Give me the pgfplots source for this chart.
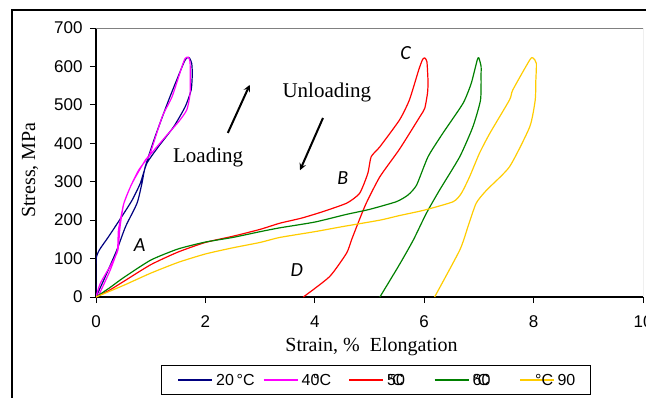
\documentclass[border=0pt]{standalone}
\usepackage{fontspec}
\setmainfont{Liberation Serif}
\newfontfamily\arialf{Liberation Sans}
\newfontfamily\calibrif{Carlito}
\usepackage{pgfplots}
\pgfplotsset{compat=1.18}

\definecolor{c20}{RGB}{0,0,128}
\definecolor{c40}{RGB}{255,0,255}
\definecolor{c50}{RGB}{255,0,0}
\definecolor{c60}{RGB}{0,128,0}
\definecolor{c90}{RGB}{255,204,0}

\begin{document}
\begin{tikzpicture}[x=1pt,y=1pt]
\useasboundingbox (0,0) rectangle (646,397);
% outer frame
\draw[line width=1.5pt] (12,-5) -- (12,387) -- (660,387);
\begin{axis}[
  at={(96pt,100pt)}, anchor=south west,
  scale only axis, width=547pt, height=269pt,
  xmin=0, xmax=10, ymin=0, ymax=700,
  xtick={0,2,...,10}, ytick={0,100,...,700},
  axis lines=left,
  axis line style={-, line width=1.2pt},
  tick align=outside, major tick length=6pt,
  tick style={black, line width=1pt},
  /pgf/number format/assume math mode=true,
  ticklabel style={font=\arialf\fontsize{17}{17}\selectfont},
  xticklabel style={anchor=center, yshift=-19pt},
  yticklabel style={anchor=east, xshift=-4pt},
  every axis plot/.append style={line width=1.2pt, smooth, tension=0.35},
]
% 20 C
\addplot[draw=c20] coordinates {
(0,0)(0,96)(0.06,122)(0.23,157)(0.47,209)(0.66,252)(0.81,296)(0.93,348)
(1.14,391)(1.42,443)(1.63,495)(1.74,539)(1.76,580)(1.75,608)(1.71,622)
(1.66,622)(1.6,608)(1.33,513)(1.08,417)(0.9,339)(0.84,296)(0.75,244)
(0.54,183)(0.38,122)(0.17,53)(0,0)};
% 40 C
\addplot[draw=c40] coordinates {
(0,0)(0.08,36)(0.29,88)(0.4,122)(0.44,183)(0.51,244)(0.66,296)(0.9,356)
(0.99,374)(1.21,469)(1.39,521)(1.57,599)(1.63,621)(1.69,624)(1.72,608)
(1.72,530)(1.66,487)(1.51,456)(1.27,417)(0.99,370)(0.78,330)(0.63,287)
(0.51,244)(0.47,218)(0.41,174)(0.39,122)(0.26,70)(0.06,8)(0,0)};
% 50 C
\addplot[draw=c50] coordinates {
(0,0)(0.25,18)(0.5,40)(1,84)(1.5,117)(2,142)(2.5,158)(3,176)(3.36,192)
(3.75,205)(4.1,220)(4.58,244)(4.82,270)(4.97,322)(5.03,365)(5.19,391)
(5.55,461)(5.73,513)(5.9,591)(5.97,618)(6.01,622)(6.05,612)(6.07,560)
(6.06,530)(6.01,491)(5.92,469)(5.55,385)(5.19,313)(4.94,244)(4.79,192)
(4.67,148)(4.58,114)(4.27,53)(3.79,0)};
% 60 C
\addplot[draw=c60] coordinates {
(0,0)(0.25,24)(0.5,50)(1,96)(1.5,125)(2,143)(2.5,155)(3,170)(3.36,180)
(4,195)(4.58,215)(5.0,228)(5.49,248)(5.7,265)(5.86,291)(6.07,365)
(6.34,426)(6.71,504)(6.86,556)(6.97,617)(7.0,622)(7.04,600)(7.04,582)
(7.03,513)(6.89,443)(6.65,365)(6.28,278)(6.04,218)(5.8,148)(5.55,85)(5.19,0)};
% 90 C
\addplot[draw=c90] coordinates {
(0,0)(0.5,30)(1,62)(1.5,90)(2,112)(2.5,128)(3,142)(3.36,155)(4,170)
(4.5,183)(5.19,200)(5.55,212)(6,226)(6.53,248)(6.68,270)(6.83,313)
(7.01,374)(7.2,426)(7.56,513)(7.62,539)(7.93,617)(7.99,622)(8.05,608)
(8.04,560)(8.03,513)(7.93,443)(7.56,339)(7.14,278)(6.95,244)(6.8,183)
(6.65,122)(6.19,0)};
% grey frame on top and right
\draw[gray, line width=1pt] (rel axis cs:0,1) -- (rel axis cs:1,1) -- (rel axis cs:1,0);
% annotations
\node[font=\fontsize{21}{21}\selectfont] at (axis cs:2.05,362) {Loading};
\node[font=\fontsize{21}{21}\selectfont] at (axis cs:4.22,531) {Unloading};
\draw[-stealth, line width=2pt] (axis cs:2.41,427) -- (axis cs:2.81,552);
\draw[-stealth, line width=2pt] (axis cs:4.15,466) -- (axis cs:3.73,330);
\node[font=\calibrif\itshape\fontsize{20}{20}\selectfont] at (axis cs:0.8,135) {A};
\node[font=\calibrif\itshape\fontsize{20}{20}\selectfont] at (axis cs:4.51,310) {B};
\node[font=\calibrif\itshape\fontsize{20}{20}\selectfont] at (axis cs:5.66,635) {C};
\node[font=\calibrif\itshape\fontsize{20}{20}\selectfont] at (axis cs:3.67,70) {D};
\end{axis}
\node[rotate=90, font=\fontsize{20}{20}\selectfont] at (30,227) {Stress, MPa};
\node[font=\fontsize{20}{20}\selectfont] at (371.5,50) {Strain, \%\ \ Elongation};
% legend
\draw[line width=1pt, fill=white] (161,3) rectangle (590,32);
\draw[line width=2pt, draw=c20] (178,17.5) -- (212,17.5);
\draw[line width=2pt, draw=c40] (263.5,17.5) -- (297.5,17.5);
\draw[line width=2pt, draw=c50] (349,17.5) -- (383,17.5);
\draw[line width=2pt, draw=c60] (434.5,17.5) -- (468.5,17.5);
\draw[line width=2pt, draw=c90] (520,17.5) -- (554,17.5);
\begin{scope}[every node/.style={anchor=west, inner sep=0pt, font=\arialf\fontsize{16}{16}\selectfont}]
\node at (216,17.5) {20\,°C};
\node at (301.5,17.5) {40\llap{°}C};
\node at (387,17.5) {\rlap{°}5\rlap{\kern-0.25em C}0};
\node at (472.5,17.5) {\rlap{°}6\rlap{\kern-0.25em C}0};
\node at (535,17.5) {°C 90};
\end{scope}
\end{tikzpicture}
\end{document}
